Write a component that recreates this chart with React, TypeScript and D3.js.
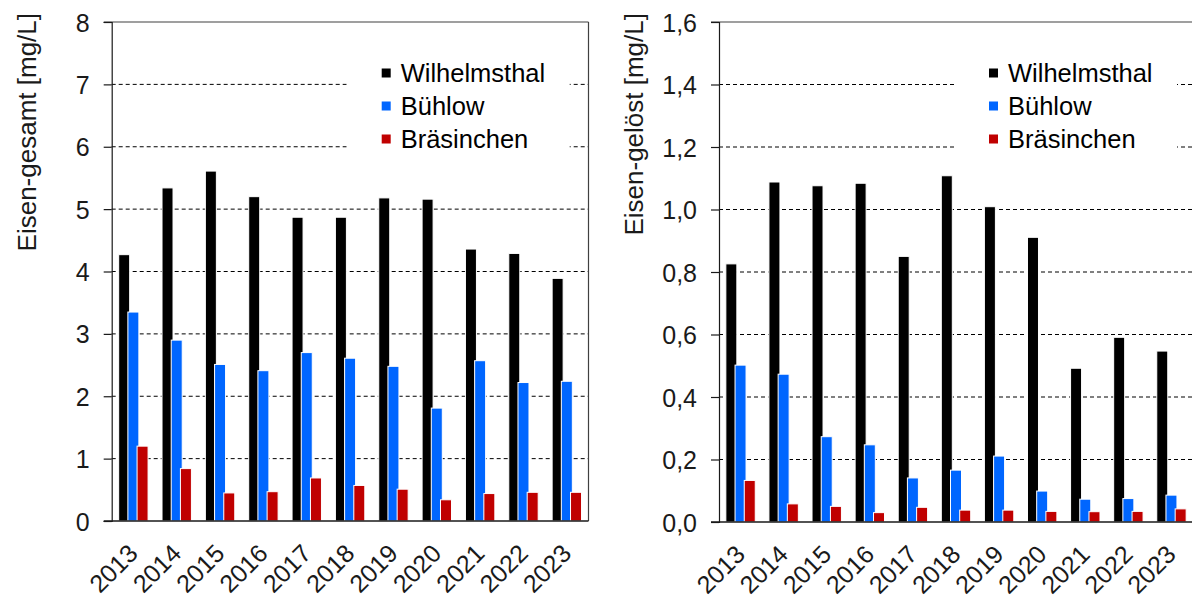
import React, { useEffect, useRef } from 'react';
import * as d3 from 'd3';

// years on the x axis
const years = ['2013', '2014', '2015', '2016', '2017', '2018', '2019', '2020', '2021', '2022', '2023'];
const stations = ['Wilhelmsthal', 'Bühlow', 'Bräsinchen'];
const stationColors = ['#000000', '#0066ff', '#c00000'];

// Eisen-gesamt [mg/L]
const gesamtWilhelmsthal = [4.27, 5.34, 5.61, 5.2, 4.87, 4.87, 5.18, 5.16, 4.36, 4.29, 3.89];
const gesamtBuehlow = [3.35, 2.9, 2.51, 2.41, 2.7, 2.61, 2.48, 1.81, 2.57, 2.22, 2.24];
const gesamtBraesinchen = [1.2, 0.84, 0.45, 0.47, 0.69, 0.57, 0.51, 0.34, 0.44, 0.46, 0.46];
const gesamtTicks = [0, 1, 2, 3, 4, 5, 6, 7, 8];

// Eisen-gelöst [mg/L]
const geloestWilhelmsthal = [0.826, 1.088, 1.076, 1.084, 0.85, 1.108, 1.009, 0.911, 0.492, 0.591, 0.547];
const geloestBuehlow = [0.502, 0.473, 0.273, 0.247, 0.141, 0.166, 0.211, 0.099, 0.073, 0.075, 0.086];
const geloestBraesinchen = [0.133, 0.058, 0.05, 0.03, 0.047, 0.038, 0.038, 0.034, 0.033, 0.034, 0.042];
const geloestTicks = [0, 0.2, 0.4, 0.6, 0.8, 1.0, 1.2, 1.4, 1.6];

const FONT = '"Liberation Sans", Arial, sans-serif';
const deFormat = d3.formatLocale({ decimal: ',', thousands: '.', grouping: [3], currency: ['', ' €'] });

function drawPanel(g, opts) {
    const { left, right, top, bottom, ticks, series, title, fmt, showRight } = opts;
    const x = d3.scaleBand().domain(years).range([left, right]).padding(0);
    const y = d3.scaleLinear().domain([0, ticks[ticks.length - 1]]).range([bottom, top]);

    // dashed grid lines
    g.selectAll('line.grid')
        .data(ticks.filter((t, i) => i > 0 && i < ticks.length - 1))
        .enter().append('line')
        .attr('class', 'grid')
        .attr('x1', left).attr('x2', right)
        .attr('y1', d => y(d)).attr('y2', d => y(d))
        .attr('stroke', '#000').attr('stroke-width', 1)
        .attr('stroke-dasharray', '4,3');

    // legend (white box hides grid)
    const lg = g.append('g');
    lg.append('rect')
        .attr('x', left + 235).attr('y', 50)
        .attr('width', 223).attr('height', 110)
        .attr('fill', '#fff');
    stations.forEach((s, i) => {
        const cy = 73 + i * 33;
        lg.append('rect')
            .attr('x', left + 270).attr('y', cy - 4.5)
            .attr('width', 9).attr('height', 9)
            .attr('fill', stationColors[i]);
        lg.append('text')
            .attr('x', left + 289).attr('y', cy + 9)
            .attr('font-family', FONT).attr('font-size', 25.5)
            .attr('fill', '#000')
            .text(s);
    });

    // bars
    const barW = 11, shift = 9.2;
    series.forEach((vals, si) => {
        g.selectAll('rect.bar' + si)
            .data(vals)
            .enter().append('rect')
            .attr('class', 'bar' + si)
            .attr('x', (d, i) => x(years[i]) + x.bandwidth() / 2 + (si - 1) * shift - barW / 2)
            .attr('y', d => y(d))
            .attr('width', barW)
            .attr('height', d => y(0) - y(d))
            .attr('fill', stationColors[si])
            .attr('stroke', '#fff')
            .attr('stroke-width', 1);
    });

    // frame
    g.append('line')
        .attr('x1', left - 8).attr('x2', right)
        .attr('y1', top).attr('y2', top)
        .attr('stroke', '#404040').attr('stroke-width', 1.2);
    if (showRight) {
        g.append('line')
            .attr('x1', right).attr('x2', right)
            .attr('y1', top).attr('y2', bottom)
            .attr('stroke', '#404040').attr('stroke-width', 1.2);
    }

    // y axis
    const yAxis = g.append('g')
        .attr('transform', 'translate(' + left + ',0)')
        .call(d3.axisLeft(y).tickValues(ticks).tickSize(8).tickPadding(14).tickFormat(fmt));
    yAxis.select('.domain').attr('stroke', '#1a1a1a').attr('stroke-width', 1.2);
    yAxis.selectAll('.tick line').attr('stroke', '#1a1a1a').attr('stroke-width', 1.2);
    yAxis.selectAll('text')
        .attr('font-family', FONT).attr('font-size', 25).attr('fill', '#1a1a1a')
        .attr('dy', '0.36em');

    // x axis baseline
    g.append('line')
        .attr('x1', left - 8).attr('x2', right)
        .attr('y1', bottom).attr('y2', bottom)
        .attr('stroke', '#1a1a1a').attr('stroke-width', 1.5);

    g.selectAll('text.year')
        .data(years)
        .enter().append('text')
        .attr('class', 'year')
        .attr('transform', d => 'translate(' + (x(d) + x.bandwidth() / 2 + 6) + ',' + (bottom + 34) + ') rotate(-45)')
        .attr('text-anchor', 'end')
        .attr('font-family', FONT).attr('font-size', 25).attr('fill', '#1a1a1a')
        .text(d => d);

    // y title
    g.append('text')
        .attr('transform', 'translate(' + (left - 76) + ',13) rotate(-90)')
        .attr('text-anchor', 'end')
        .attr('font-family', FONT).attr('font-size', 26).attr('fill', '#1a1a1a')
        .text(title);
}

export default function App() {
    const ref = useRef(null);
    useEffect(() => {
        const svg = d3.select(ref.current);
        svg.selectAll('*').remove();
        drawPanel(svg.append('g'), {
            left: 111.7, right: 588.5, top: 22, bottom: 521,
            ticks: gesamtTicks,
            series: [gesamtWilhelmsthal, gesamtBuehlow, gesamtBraesinchen],
            title: 'Eisen-gesamt [mg/L]',
            fmt: d3.format('d'),
            showRight: true,
        });
        drawPanel(svg.append('g'), {
            left: 719, right: 1193, top: 22, bottom: 522,
            ticks: geloestTicks,
            series: [geloestWilhelmsthal, geloestBuehlow, geloestBraesinchen],
            title: 'Eisen-gelöst [mg/L]',
            fmt: deFormat.format('.1f'),
            showRight: false,
        });
    }, []);
    return (
        <svg ref={ref} width={1192} height={599}
            style={{ position: 'absolute', left: 0, top: 0, background: '#fff' }} />
    );
}
